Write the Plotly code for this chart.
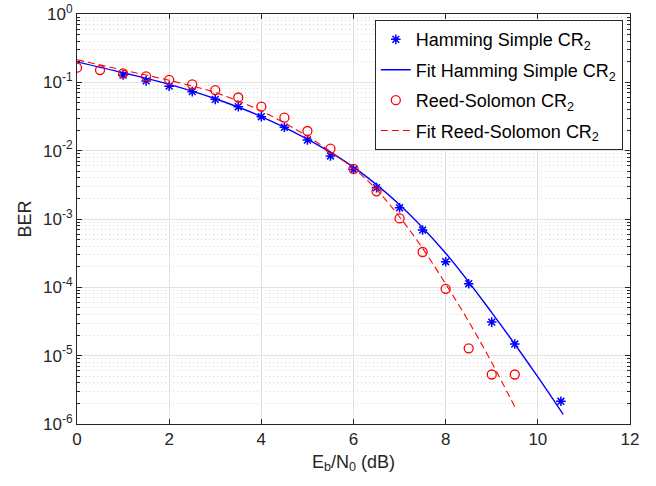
import plotly.graph_objects as go

# Measured data
ham_x = [1, 1.5, 2, 2.5, 3, 3.5, 4, 4.5, 5, 5.5, 6, 6.5, 7, 7.5, 8, 8.5, 9, 9.5, 10.5]
ham_y = [0.128, 0.105, 0.088, 0.073, 0.0564, 0.044, 0.0314, 0.022, 0.0143, 0.00836, 0.0053,
         0.00288, 0.00146, 6.9e-4, 2.37e-4, 1.13e-4, 3.1e-5, 1.48e-5, 2.15e-6]

rs_x = [0, 0.5, 1, 1.5, 2, 2.5, 3, 3.5, 4, 4.5, 5, 5.5, 6, 6.5, 7, 7.5, 8, 8.5, 9, 9.5]
rs_y = [0.164, 0.151, 0.135, 0.122, 0.109, 0.0935, 0.077, 0.060, 0.044, 0.0304, 0.0194, 0.0107,
        0.0054, 0.00254, 0.00102, 3.29e-4, 9.5e-5, 1.28e-5, 5.3e-6, 5.3e-6]

# Fit curves
fit_ham_x = [0, 1, 2, 3, 4, 5, 6, 7, 8, 9, 10, 10.55]
fit_ham_y = [0.1995, 0.138, 0.0933, 0.0575, 0.0316, 0.0148, 0.00575, 0.00162, 3.16e-4, 4.27e-5, 4.9e-6, 1.38e-6]

fit_rs_x = [0, 1, 2, 3, 4, 5, 6, 6.5, 7, 7.5, 8, 8.5, 9, 9.5]
fit_rs_y = [0.214, 0.151, 0.107, 0.0708, 0.038, 0.0162, 0.0055, 0.00269, 0.00107, 3.72e-4,
            1.12e-4, 3.16e-5, 7.94e-6, 1.78e-6]

x_ticks = [0, 2, 4, 6, 8, 10, 12]
y_exps = [-6, -5, -4, -3, -2, -1, 0]

FONT = "Liberation Sans, Arial, sans-serif"
AX = "#262626"

fig = go.Figure()
fig.add_trace(go.Scatter(
    x=ham_x, y=ham_y, mode="markers", name="Hamming Simple CR<sub>2</sub>", legendgroup="a",
    marker=dict(symbol="asterisk-open", size=8, color="#0000ff", line=dict(color="#0000ff", width=1.5))))
fig.add_trace(go.Scatter(
    x=fit_ham_x, y=fit_ham_y, mode="lines", name="Fit Hamming Simple CR<sub>2</sub>", legendgroup="b",
    line=dict(color="#0000ff", width=1.4, shape="spline")))
fig.add_trace(go.Scatter(
    x=rs_x, y=rs_y, mode="markers", name="Reed-Solomon CR<sub>2</sub>", legendgroup="c",
    marker=dict(symbol="circle-open", size=9, color="#ff0000", line=dict(color="#ff0000", width=1.3))))
fig.add_trace(go.Scatter(
    x=fit_rs_x, y=fit_rs_y, mode="lines", name="Fit Reed-Solomon CR<sub>2</sub>", legendgroup="d",
    line=dict(color="#ff0000", width=1.1, dash="7px,4px", shape="spline")))

minor_vals = [m * 10 ** e for e in range(-6, 0) for m in range(2, 10)]

fig.update_layout(
    width=656, height=486,
    margin=dict(l=77, r=26, t=14, b=62, autoexpand=False),
    paper_bgcolor="white", plot_bgcolor="white",
    font=dict(family=FONT, size=17, color=AX),
    showlegend=True,
    legend=dict(x=0.987, y=0.985, xanchor="right", yanchor="top",
                bgcolor="white", bordercolor=AX, borderwidth=1,
                font=dict(family=FONT, size=18, color="#000000"),
                traceorder="grouped", tracegroupgap=4,
                itemwidth=30),
)
fig.update_xaxes(
    range=[0, 12], tickvals=x_ticks, ticktext=[str(v) for v in x_ticks],
    automargin=False,
    showline=True, linecolor=AX, linewidth=1, mirror="ticks",
    ticks="inside", ticklen=5, tickcolor=AX,
    showgrid=True, gridcolor="#e1e1e1", gridwidth=1,
    zeroline=False,
    tickfont=dict(family=FONT, size=17, color=AX),
    title=dict(text="E<sub>b</sub>/N<sub>0</sub> (dB)", font=dict(family=FONT, size=18, color=AX), standoff=6),
)
fig.update_yaxes(
    type="log", range=[-6, 0],
    automargin=False, ticklabeloverflow="allow",
    tickvals=[10 ** e for e in y_exps],
    ticktext=[f"10<sup>{e}</sup>" for e in y_exps],
    showline=True, linecolor=AX, linewidth=1, mirror="ticks",
    ticks="inside", ticklen=5, tickcolor=AX,
    showgrid=True, gridcolor="#e1e1e1", gridwidth=1,
    zeroline=False,
    minor=dict(tickvals=minor_vals, ticks="inside", ticklen=3, tickcolor=AX,
               showgrid=True, gridcolor="#d4d4d4", griddash="1px,3px", gridwidth=1),
    tickfont=dict(family=FONT, size=17, color=AX),
    title=dict(text="BER", font=dict(family=FONT, size=18, color=AX), standoff=6),
)

# remove the default 8px page margin so the figure fills the window exactly
fig.write_html("out.html", config={"displayModeBar": False},
               post_script="document.body.style.margin='0';")
